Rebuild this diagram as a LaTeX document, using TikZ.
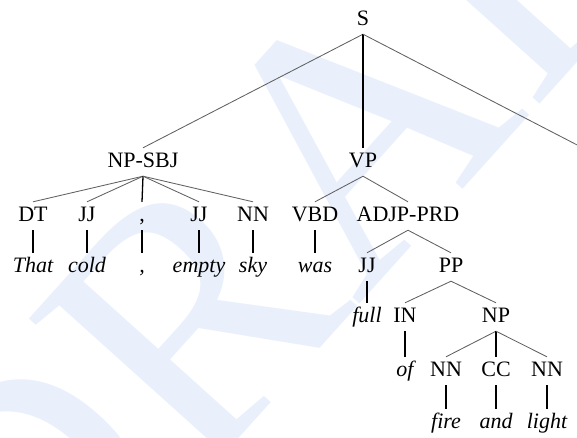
\documentclass[tikz,border=0pt]{standalone}
\usepackage{fontspec}
\setmainfont{Liberation Serif}
\newfontfamily\treefont{Liberation Serif}
\begin{document}
\begin{tikzpicture}[x=1pt,y=-1pt,
  tag/.style={font=\treefont\fontsize{22}{22}\selectfont, text height=15pt, text depth=5pt,
              inner ysep=4pt, inner xsep=1pt, anchor=base},
  word/.style={tag, font=\treefont\fontsize{22}{22}\selectfont\itshape},
  branch/.style={draw=black!62, line width=0.85pt},
  stem/.style={draw=black, line width=1.3pt},
  wmark/.style={text={rgb,255:red,233;green,240;blue,252}, font=\treefont\fontsize{360}{360}\selectfont}]
\useasboundingbox (0,0) rectangle (577,437);
\clip (0,0) rectangle (577,437);
\fill[white] (0,0) rectangle (577,437);

% watermark
\node[wmark, rotate=48] (wm) at (330,160) {DRAFT};

% tree labels
\node[tag] (s) at (363,25) {S};
\node[tag] (npsbj) at (143,167) {NP-SBJ};
\node[tag] (vp) at (363,167) {VP};
\coordinate (sright) at (583,148);

\node[tag] (dt) at (33,221) {DT};
\node[tag] (jja) at (87,221) {JJ};
\node[tag] (cm) at (142,221) {,};
\node[tag] (jjb) at (199,221) {JJ};
\node[tag] (nna) at (253,221) {NN};
\node[tag] (vbd) at (315,221) {VBD};
\node[tag] (adjp) at (408,221) {ADJP-PRD};

\node[word] (that) at (33,272) {That};
\node[word] (cold) at (87,272) {cold};
\node[word] (cmw) at (142,272) {,};
\node[word] (empty) at (199,272) {empty};
\node[word] (sky) at (253,272) {sky};
\node[word] (was) at (315,272) {was};
\node[tag] (jjc) at (367,272) {JJ};
\node[tag] (pp) at (451,272) {PP};

\node[word] (full) at (367,322) {full};
\node[tag] (in) at (405,322) {IN};
\node[tag] (np) at (496,322) {NP};

\node[word] (of) at (405,376) {of};
\node[tag] (nnb) at (446,376) {NN};
\node[tag] (cc) at (496,376) {CC};
\node[tag] (nnc) at (547,376) {NN};

\node[word] (fire) at (446,428) {fire};
\node[word] (and) at (496,428) {and};
\node[word] (light) at (547,428) {light};

% branches
\draw[branch] (s.south) -- (npsbj.north);
\draw[stem] (s.south) -- (vp.north);
\draw[branch] (s.south) -- (sright);

\draw[branch] (npsbj.south) -- (dt.north);
\draw[branch] (npsbj.south) -- (jja.north);
\draw[stem] (npsbj.south) -- (cm.north);
\draw[branch] (npsbj.south) -- (jjb.north);
\draw[branch] (npsbj.south) -- (nna.north);

\draw[branch] (vp.south) -- (vbd.north);
\draw[branch] (vp.south) -- (adjp.north);

\draw[stem] (dt.south) -- (that.north);
\draw[stem] (jja.south) -- (cold.north);
\draw[stem] (cm.south) -- (cmw.north);
\draw[stem] (jjb.south) -- (empty.north);
\draw[stem] (nna.south) -- (sky.north);
\draw[stem] (vbd.south) -- (was.north);

\draw[branch] (adjp.south) -- (jjc.north);
\draw[branch] (adjp.south) -- (pp.north);

\draw[stem] (jjc.south) -- (full.north);
\draw[branch] (pp.south) -- (in.north);
\draw[branch] (pp.south) -- (np.north);

\draw[stem] (in.south) -- (of.north);
\draw[branch] (np.south) -- (nnb.north);
\draw[stem] (np.south) -- (cc.north);
\draw[branch] (np.south) -- (nnc.north);

\draw[stem] (nnb.south) -- (fire.north);
\draw[stem] (cc.south) -- (and.north);
\draw[stem] (nnc.south) -- (light.north);
\end{tikzpicture}
\end{document}
